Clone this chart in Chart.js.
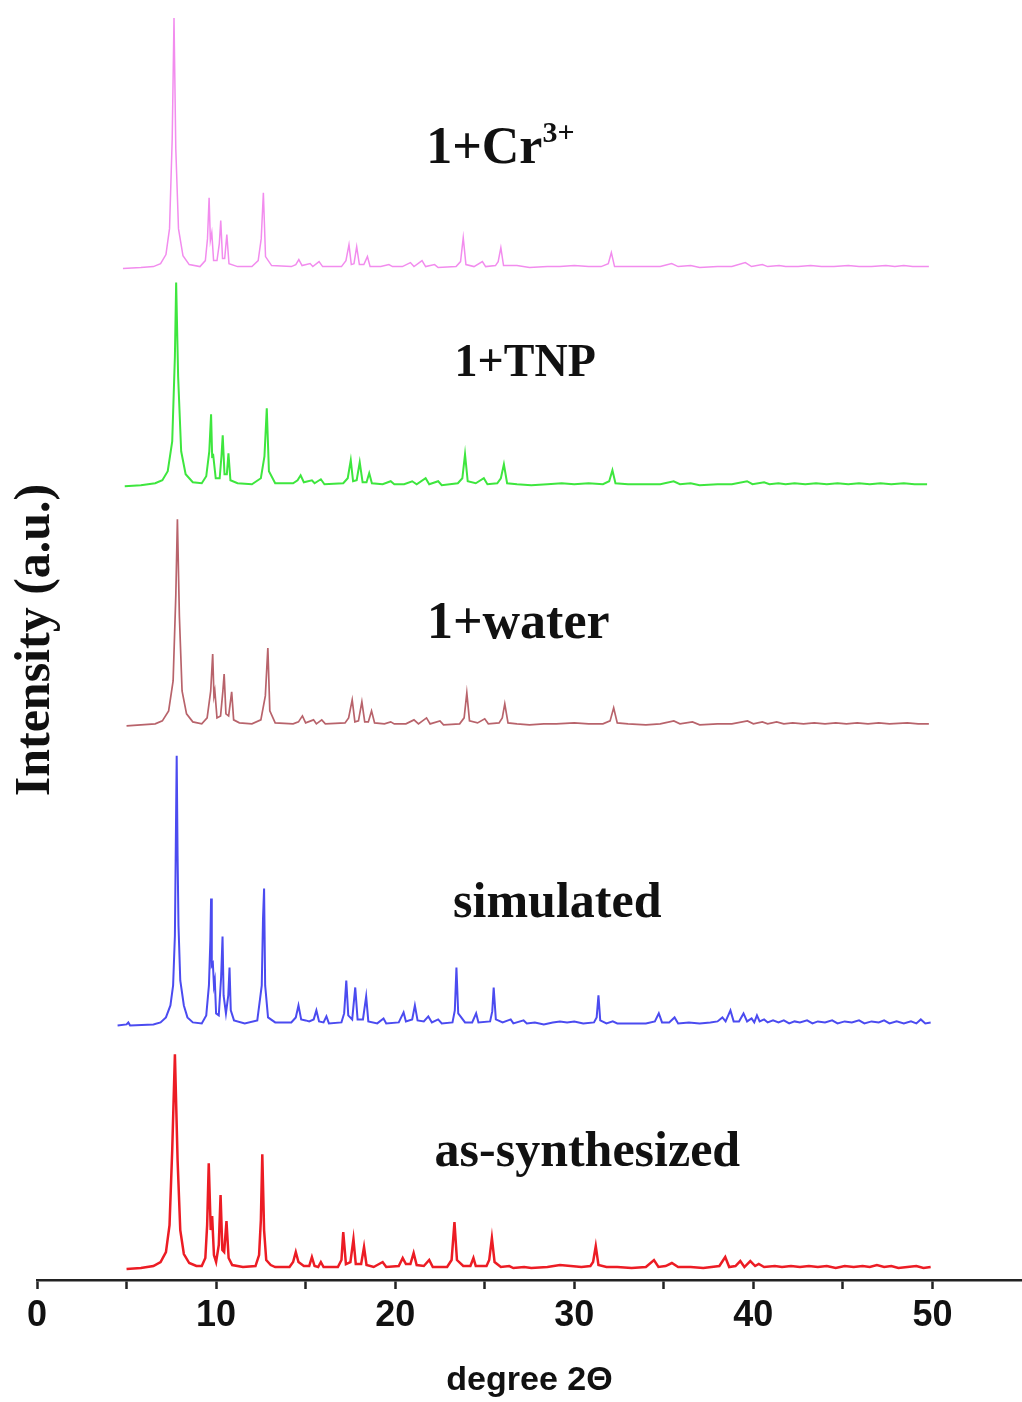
<!DOCTYPE html>
<html><head><meta charset="utf-8">
<script src="https://cdn.jsdelivr.net/npm/chart.js@4/dist/chart.umd.min.js"></script>
<style>html,body{margin:0;padding:0;background:#fff}#wrap{width:1022px;height:1402px;position:relative}</style>
</head><body><div id="wrap"><canvas id="c" width="1022" height="1402"></canvas></div>
<script>
// ---------- DATA (2θ in degrees, intensity above each pattern's own baseline, a.u.) ----------
const seriesNames = ['as-synthesized', 'simulated', '1+water', '1+TNP', '1+Cr³⁺'];

const asSynthesized = [[5.0,1],[5.8,2],[6.5,4],[6.9,8],[7.2,18],[7.4,45],[7.55,120],[7.7,216],[7.85,110],[8.0,40],[8.2,16],[8.5,7],[8.9,4],[9.2,4],[9.4,12],[9.5,45],[9.59,107],[9.7,40],[9.78,54],[9.88,15],[10.0,8],[10.15,25],[10.25,75],[10.35,20],[10.45,18],[10.58,49],[10.7,12],[10.9,5],[11.5,3],[12.2,4],[12.4,15],[12.5,50],[12.58,116],[12.68,40],[12.8,10],[13.05,5],[13.3,3],[14.1,3],[14.3,8],[14.45,18],[14.6,8],[14.9,4],[15.2,4],[15.35,13],[15.5,4],[15.7,3],[15.85,8],[16.0,3],[16.8,3],[17.0,10],[17.1,38],[17.25,6],[17.5,8],[17.67,31],[17.8,6],[18.1,6],[18.26,23],[18.4,5],[18.8,3],[19.3,8],[19.5,3],[20.2,4],[20.42,12],[20.6,6],[20.85,6],[21.03,17],[21.2,5],[21.6,4],[21.9,10],[22.1,3],[22.9,3],[23.15,10],[23.31,48],[23.45,10],[23.8,4],[24.2,4],[24.37,12],[24.5,4],[25.1,4],[25.25,10],[25.4,32],[25.55,8],[25.9,3],[26.37,4],[26.6,2],[27.2,3],[27.6,2],[28.5,3],[29.2,5],[29.8,4],[30.4,3],[30.9,4],[31.05,8],[31.2,24],[31.35,5],[31.8,3],[32.4,3],[33.2,2],[34.0,3],[34.45,10],[34.7,3],[35.1,4],[35.45,7],[35.8,3],[36.5,3],[37.2,2],[38.1,4],[38.43,13],[38.65,3],[39.0,4],[39.27,9],[39.5,3],[39.83,9],[40.1,4],[40.3,6],[40.6,3],[41.2,4],[41.6,3],[42.1,4],[42.6,3],[43.1,4],[43.6,3],[44.1,4],[44.6,2],[45.1,4],[45.6,3],[46.1,4],[46.5,3],[46.9,5],[47.3,3],[47.7,4],[48.1,2],[48.6,3],[49.1,4],[49.5,2],[49.9,3]];

const simulated = [[4.5,0],[5.0,1],[5.1,3],[5.2,0],[6.5,1],[6.9,3],[7.2,8],[7.45,20],[7.6,40],[7.7,90],[7.75,180],[7.8,270],[7.85,170],[7.9,100],[8.0,45],[8.2,20],[8.4,8],[8.7,3],[9.2,2],[9.45,10],[9.6,40],[9.68,85],[9.72,127],[9.76,60],[9.82,62],[9.88,40],[9.93,45],[10.0,12],[10.15,10],[10.28,48],[10.36,89],[10.42,30],[10.55,12],[10.68,30],[10.75,58],[10.82,15],[11.0,5],[11.6,2],[12.3,5],[12.55,40],[12.62,107],[12.68,137],[12.74,40],[12.9,8],[13.3,3],[14.2,3],[14.45,8],[14.6,20],[14.75,6],[15.0,5],[15.2,4],[15.45,6],[15.6,15],[15.75,4],[16.0,3],[16.16,9],[16.3,2],[17.0,3],[17.15,12],[17.27,45],[17.38,10],[17.6,6],[17.77,38],[17.9,6],[18.2,6],[18.38,29],[18.5,4],[19.0,2],[19.35,7],[19.5,2],[20.2,3],[20.47,13],[20.6,4],[20.95,6],[21.1,20],[21.25,5],[21.6,4],[21.85,9],[22.05,3],[22.4,6],[22.6,2],[23.2,3],[23.33,15],[23.42,58],[23.52,12],[23.9,3],[24.3,3],[24.52,12],[24.65,3],[25.3,4],[25.42,14],[25.5,38],[25.62,6],[26.0,3],[26.45,6],[26.6,2],[27.17,5],[27.35,2],[27.8,3],[28.3,1],[28.8,3],[29.2,4],[29.6,3],[30.0,4],[30.5,2],[31.1,3],[31.25,8],[31.35,30],[31.45,5],[31.8,2],[32.15,4],[32.4,2],[33.2,2],[34.0,2],[34.5,4],[34.72,12],[34.9,3],[35.3,3],[35.6,8],[35.8,2],[36.4,3],[37.0,2],[37.6,3],[38.0,4],[38.27,8],[38.45,4],[38.72,15],[38.9,4],[39.2,4],[39.45,12],[39.65,4],[39.9,7],[40.05,3],[40.2,10],[40.35,4],[40.6,6],[40.8,3],[41.1,5],[41.4,3],[41.7,5],[42.0,2],[42.3,4],[42.6,3],[43.0,5],[43.3,2],[43.6,4],[44.0,3],[44.4,5],[44.7,2],[45.1,4],[45.5,3],[45.9,5],[46.2,2],[46.6,4],[47.0,3],[47.3,5],[47.6,2],[48.0,4],[48.4,2],[48.8,4],[49.1,2],[49.35,6],[49.6,2],[49.9,3]];

const withWater = [[5.0,0],[5.8,1],[6.6,2],[7.0,5],[7.35,15],[7.6,45],[7.75,130],[7.84,207],[7.95,110],[8.1,35],[8.35,12],[8.7,4],[9.2,2],[9.5,8],[9.7,35],[9.81,72],[9.88,30],[9.93,35],[10.05,8],[10.25,10],[10.38,35],[10.45,52],[10.55,12],[10.7,10],[10.87,34],[10.98,6],[11.3,3],[12.0,2],[12.5,6],[12.75,30],[12.89,78],[13.0,15],[13.3,3],[14.3,2],[14.6,4],[14.82,10],[15.0,3],[15.44,6],[15.6,2],[15.9,6],[16.1,2],[17.2,3],[17.4,8],[17.6,26],[17.75,4],[17.95,5],[18.14,24],[18.3,4],[18.5,4],[18.68,15],[18.85,3],[19.4,2],[19.75,4],[19.95,2],[20.6,2],[21.05,6],[21.3,2],[21.75,8],[21.95,2],[22.5,5],[22.7,1],[23.6,2],[23.85,8],[24.0,33],[24.15,5],[24.6,3],[25.0,7],[25.2,2],[25.8,3],[25.98,8],[26.12,22],[26.3,3],[26.8,2],[27.5,1],[28.3,2],[29.0,2],[30.0,3],[30.8,2],[31.6,2],[32.0,5],[32.2,18],[32.4,3],[33.0,2],[34.0,1],[34.8,2],[35.56,5],[35.9,2],[36.6,4],[37.0,1],[38.0,2],[38.8,2],[39.67,5],[40.0,2],[40.5,4],[40.8,2],[41.3,4],[41.7,2],[42.2,3],[42.8,2],[43.4,3],[44.0,2],[44.6,3],[45.2,2],[45.8,3],[46.4,2],[47.0,3],[47.6,2],[48.6,3],[49.2,2],[49.8,2]];

const withTNP = [[4.9,0],[5.8,1],[6.6,3],[7.0,6],[7.3,15],[7.55,45],[7.7,130],[7.77,204],[7.88,110],[8.05,35],[8.3,12],[8.7,4],[9.2,3],[9.45,10],[9.62,35],[9.72,72],[9.78,30],[9.84,31],[9.98,8],[10.2,8],[10.3,30],[10.37,51],[10.47,12],[10.6,12],[10.69,33],[10.8,6],[11.2,3],[12.0,2],[12.5,8],[12.7,30],[12.83,78],[12.95,15],[13.3,3],[14.3,3],[14.55,6],[14.72,11],[14.9,4],[15.35,6],[15.5,3],[15.85,7],[16.05,2],[17.1,3],[17.35,8],[17.52,26],[17.65,5],[17.85,6],[18.02,24],[18.18,4],[18.4,4],[18.55,13],[18.7,3],[19.3,2],[19.75,5],[19.95,2],[20.5,2],[20.95,5],[21.2,2],[21.7,8],[21.9,2],[22.4,5],[22.6,1],[23.5,3],[23.75,8],[23.9,32],[24.05,5],[24.5,3],[24.95,8],[25.15,2],[25.7,3],[25.9,8],[26.07,22],[26.25,3],[26.8,2],[27.6,1],[28.5,2],[29.3,3],[30.0,2],[30.8,3],[31.6,2],[31.95,5],[32.13,16],[32.3,3],[33.0,2],[34.0,2],[34.8,2],[35.55,5],[35.9,2],[36.5,3],[37.0,1],[38.0,2],[38.8,2],[39.65,5],[39.95,2],[40.6,4],[40.9,2],[41.4,3],[41.8,2],[42.3,3],[42.9,2],[43.5,3],[44.1,2],[44.7,3],[45.3,2],[45.9,3],[46.5,2],[47.1,3],[47.7,2],[48.4,3],[49.0,2],[49.7,2]];

const withCr = [[4.8,0],[5.8,1],[6.5,2],[6.9,5],[7.2,14],[7.4,40],[7.55,130],[7.65,251],[7.75,120],[7.9,40],[8.15,13],[8.5,4],[9.1,2],[9.4,8],[9.52,30],[9.61,71],[9.68,28],[9.76,36],[9.86,8],[10.05,8],[10.18,25],[10.26,48],[10.36,10],[10.48,10],[10.6,34],[10.72,5],[11.2,2],[12.0,2],[12.35,8],[12.52,30],[12.64,76],[12.76,12],[13.1,3],[14.2,2],[14.45,4],[14.62,9],[14.8,3],[15.25,5],[15.4,2],[15.75,7],[15.95,2],[17.0,2],[17.25,8],[17.42,24],[17.55,4],[17.7,5],[17.85,22],[18.0,4],[18.25,4],[18.45,12],[18.6,2],[19.2,2],[19.65,4],[19.85,2],[20.4,2],[20.85,6],[21.05,2],[21.5,8],[21.7,2],[22.2,4],[22.4,1],[23.4,2],[23.65,7],[23.8,31],[23.95,4],[24.4,2],[24.87,7],[25.05,2],[25.6,3],[25.75,7],[25.9,21],[26.05,3],[26.8,3],[27.5,1],[28.5,2],[29.2,2],[30.0,3],[30.8,2],[31.5,2],[31.9,5],[32.07,16],[32.25,2],[33.0,2],[34.0,2],[34.8,2],[35.44,5],[35.8,2],[36.5,3],[37.0,1],[38.0,2],[38.8,2],[39.55,6],[39.9,2],[40.5,4],[40.8,2],[41.44,3],[41.8,2],[42.5,2],[43.2,3],[43.8,2],[44.5,2],[45.3,3],[45.9,2],[46.6,2],[47.4,3],[47.9,2],[48.4,3],[48.9,2],[49.8,2]];

const xTickLabels = [0, 10, 20, 30, 40, 50];
const xAxisTitle = 'degree 2Θ';
const yAxisTitle = 'Intensity (a.u.)';

// ---------- LAYOUT / STYLE ----------
const seriesData = [asSynthesized, simulated, withWater, withTNP, withCr];
const stackOffsets = [10, 255, 555, 795, 1013];
const colors = ['#ec1c24', '#4b4bf0', '#b8636b', '#3ee63e', '#f28cee'];
const lineWidths = [2.5, 2, 1.7, 2, 1.5];
const labelAnchors = [[30.73, 127], [29.05, 377], [26.87, 660], [27.26, 922], [25.87, 1137]];
const labelOffsetsPx = [0, 0, 4, 5, 5];
const labelSizes = [50, 50, 52, 46, 52];

const datasets = seriesData.map((pts, i) => ({
  label: seriesNames[i],
  data: pts.map(p => ({ x: p[0], y: p[1] + stackOffsets[i] })),
  borderColor: colors[i],
  borderWidth: lineWidths[i],
  pointRadius: 0,
  tension: 0,
  fill: false
}));

const supMap = { '³': '3', '⁺': '+', '²': '2' };
const labelPlugin = {
  id: 'seriesLabels',
  afterDatasetsDraw(chart) {
    const ctx = chart.ctx;
    const xs = chart.scales.x, ys = chart.scales.y;
    ctx.save();
    ctx.fillStyle = '#111';
    ctx.textBaseline = 'middle';
    seriesNames.forEach((name, i) => {
      const size = labelSizes[i];
      let main = '', sup = '';
      for (const ch of name) { if (supMap[ch]) sup += supMap[ch]; else main += ch; }
      const mainFont = `bold ${size}px "Liberation Serif", "Times New Roman", serif`;
      const supFont = `bold ${Math.round(size * 0.58)}px "Liberation Serif", "Times New Roman", serif`;
      ctx.font = mainFont;
      const wMain = ctx.measureText(main).width;
      ctx.font = supFont;
      const wSup = sup ? ctx.measureText(sup).width : 0;
      const total = wMain + wSup;
      const cx = xs.getPixelForValue(labelAnchors[i][0]);
      const cy = ys.getPixelForValue(labelAnchors[i][1]) + labelOffsetsPx[i];
      const left = cx - total / 2;
      ctx.textAlign = 'left';
      ctx.font = mainFont;
      ctx.fillText(main, left, cy);
      if (sup) { ctx.font = supFont; ctx.fillText(sup, left + wMain, cy - size * 0.3); }
    });
    // y-axis title
    ctx.save();
    ctx.translate(36, (chart.chartArea.top + chart.chartArea.bottom) / 2);
    ctx.rotate(-Math.PI / 2);
    ctx.textAlign = 'center';
    ctx.textBaseline = 'middle';
    ctx.font = 'bold 50px "Liberation Serif", "Times New Roman", serif';
    ctx.fillText(yAxisTitle, 0, 0);
    ctx.restore();
    ctx.restore();
  }
};

new Chart(document.getElementById('c'), {
  type: 'line',
  data: { datasets },
  options: {
    responsive: false,
    animation: false,
    devicePixelRatio: 1,
    layout: { padding: { left: 37, right: 0, top: 0, bottom: 1 } },
    plugins: { legend: { display: false }, tooltip: { enabled: false } },
    scales: {
      x: {
        type: 'linear', min: 0, max: 55,
        afterBuildTicks(scale) { scale.ticks = scale.ticks.filter(t => t.value <= 50); },
        ticks: {
          stepSize: 5, padding: 5, color: '#111',
          font: { family: '"Liberation Sans", Arial, sans-serif', size: 36, weight: 'bold' },
          callback: v => xTickLabels.includes(v) ? String(v) : ''
        },
        grid: { drawOnChartArea: false, drawTicks: true, tickLength: 9, tickWidth: 2.5, tickColor: '#222' },
        border: { display: true, color: '#222', width: 2.5 },
        title: {
          display: true, text: xAxisTitle, color: '#111',
          font: { family: '"Liberation Sans", Arial, sans-serif', size: 34, weight: 'bold' },
          padding: { top: 18, bottom: 0 }
        }
      },
      y: { display: false, min: 0, max: 1282 }
    }
  },
  plugins: [labelPlugin]
});
</script></body></html>
